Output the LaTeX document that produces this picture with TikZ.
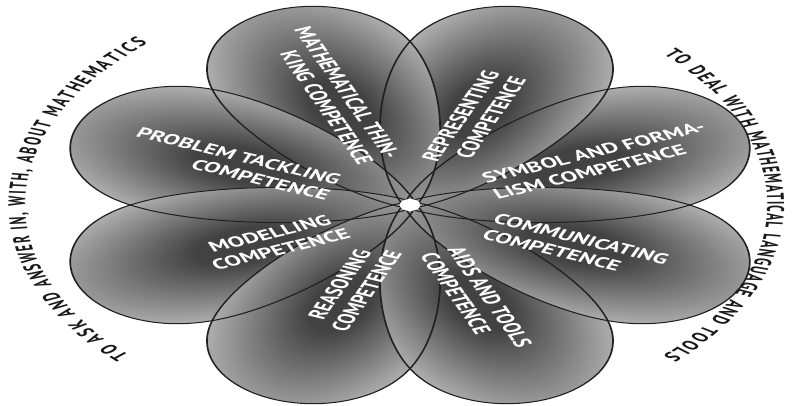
\documentclass[tikz,border=0pt]{standalone}
\usepackage{fontspec}
\setmainfont{PT Sans}
\newfontfamily\arcfam{PT Sans}[FakeStretch=0.84]
\usetikzlibrary{decorations.text}
\definecolor{pdark}{gray}{0.26}
\definecolor{plight}{gray}{0.68}
\definecolor{pline}{gray}{0.13}
\definecolor{arctext}{gray}{0.10}
\pgfdeclareradialshading{petalshade}{\pgfpoint{0bp}{0bp}}{color(0bp)=(pdark); color(6bp)=(pdark); color(25bp)=(plight); color(50bp)=(plight)}
\newcommand\arcfont{\arcfam\fontsize{14}{15}\selectfont\bfseries}
\tikzset{
  petalline/.style={insert path={(-5,0) .. controls (25,36) and (100,65) .. (145,63) .. controls (185,62) and (210,32) .. (210,0) .. controls (210,-32) and (185,-62) .. (145,-63) .. controls (100,-65) and (25,-36) .. (-5,0) -- cycle}},
  outline/.style={draw=pline, line width=1.0pt},
  lbl/.style={text=white, font=\fontsize{14.5}{17}\selectfont\bfseries, inner sep=0pt},
  arcdeco/.style={decorate, decoration={text along path, text={|\arcfont|#1}, text align={fit to path}, text color=arctext}}
}
\begin{document}
\begin{tikzpicture}[x=1pt,y=1pt]
\fill[white] (-410,-201) rectangle (395,205);
\useasboundingbox (-410,-201) rectangle (395,205);
\begin{scope}[overlay, transform canvas={xscale=1.71}]
  % petal fills
  \foreach \a in {22.5,67.5,...,337.5}{
    \begin{scope}[transform canvas={rotate=\a}]
      \fill[plight, petalline];
      \begin{scope}
        \clip[petalline];
        \shade[shading=petalshade] (105,0) ellipse [x radius=125, y radius=68];
      \end{scope}
    \end{scope}
  }
  % petal outlines
  \foreach \a in {22.5,67.5,...,337.5}{
    \begin{scope}[rotate=\a]
      \path[outline, petalline];
    \end{scope}
  }
  \fill[white] (0,0) circle (6);
  % labels
  \node[lbl, rotate=-22.5, align=right] (prob) at (-103.3,41.1) {PROBLEM TACKLING\\COMPETENCE};
  \node[lbl, rotate=-67.5, align=right] (think) at (-44.4,109.2) {MATHEMATICAL THIN-\\KING COMPETENCE};
  \node[lbl, rotate=67.5, align=right] (repr) at (37.4,85.7) {REPRESENTING\\COMPETENCE};
  \node[lbl, rotate=22.5, align=left] (symb) at (110.6,44.6) {SYMBOL AND FORMA-\\LISM COMPETENCE};
  \node[lbl, rotate=-22.5, align=left] (comm) at (97,-41.9) {COMMUNICATING\\COMPETENCE};
  \node[lbl, rotate=-67.5, align=left] (aids) at (38.9,-95.3) {AIDS AND TOOLS\\COMPETENCE};
  \node[lbl, rotate=67.5, align=center] (reas) at (-33.3,-82.8) {REASONING\\COMPETENCE};
  \node[lbl, rotate=22.5, align=center] (mode) at (-78.8,-36.5) {MODELLING\\COMPETENCE};
  % arc texts
  \path[shift={(-8,0)}, arcdeco={TO ASK AND ANSWER IN, WITH, ABOUT MATHEMATICS}] (224:217) arc[start angle=224, end angle=132, radius=217];
  \path[shift={(-8,0)}, arcdeco={TO DEAL WITH MATHEMATICAL LANGUAGE AND TOOLS}] (44:217) arc[start angle=44, end angle=-44, radius=217];
\end{scope}
\end{tikzpicture}
\end{document}
